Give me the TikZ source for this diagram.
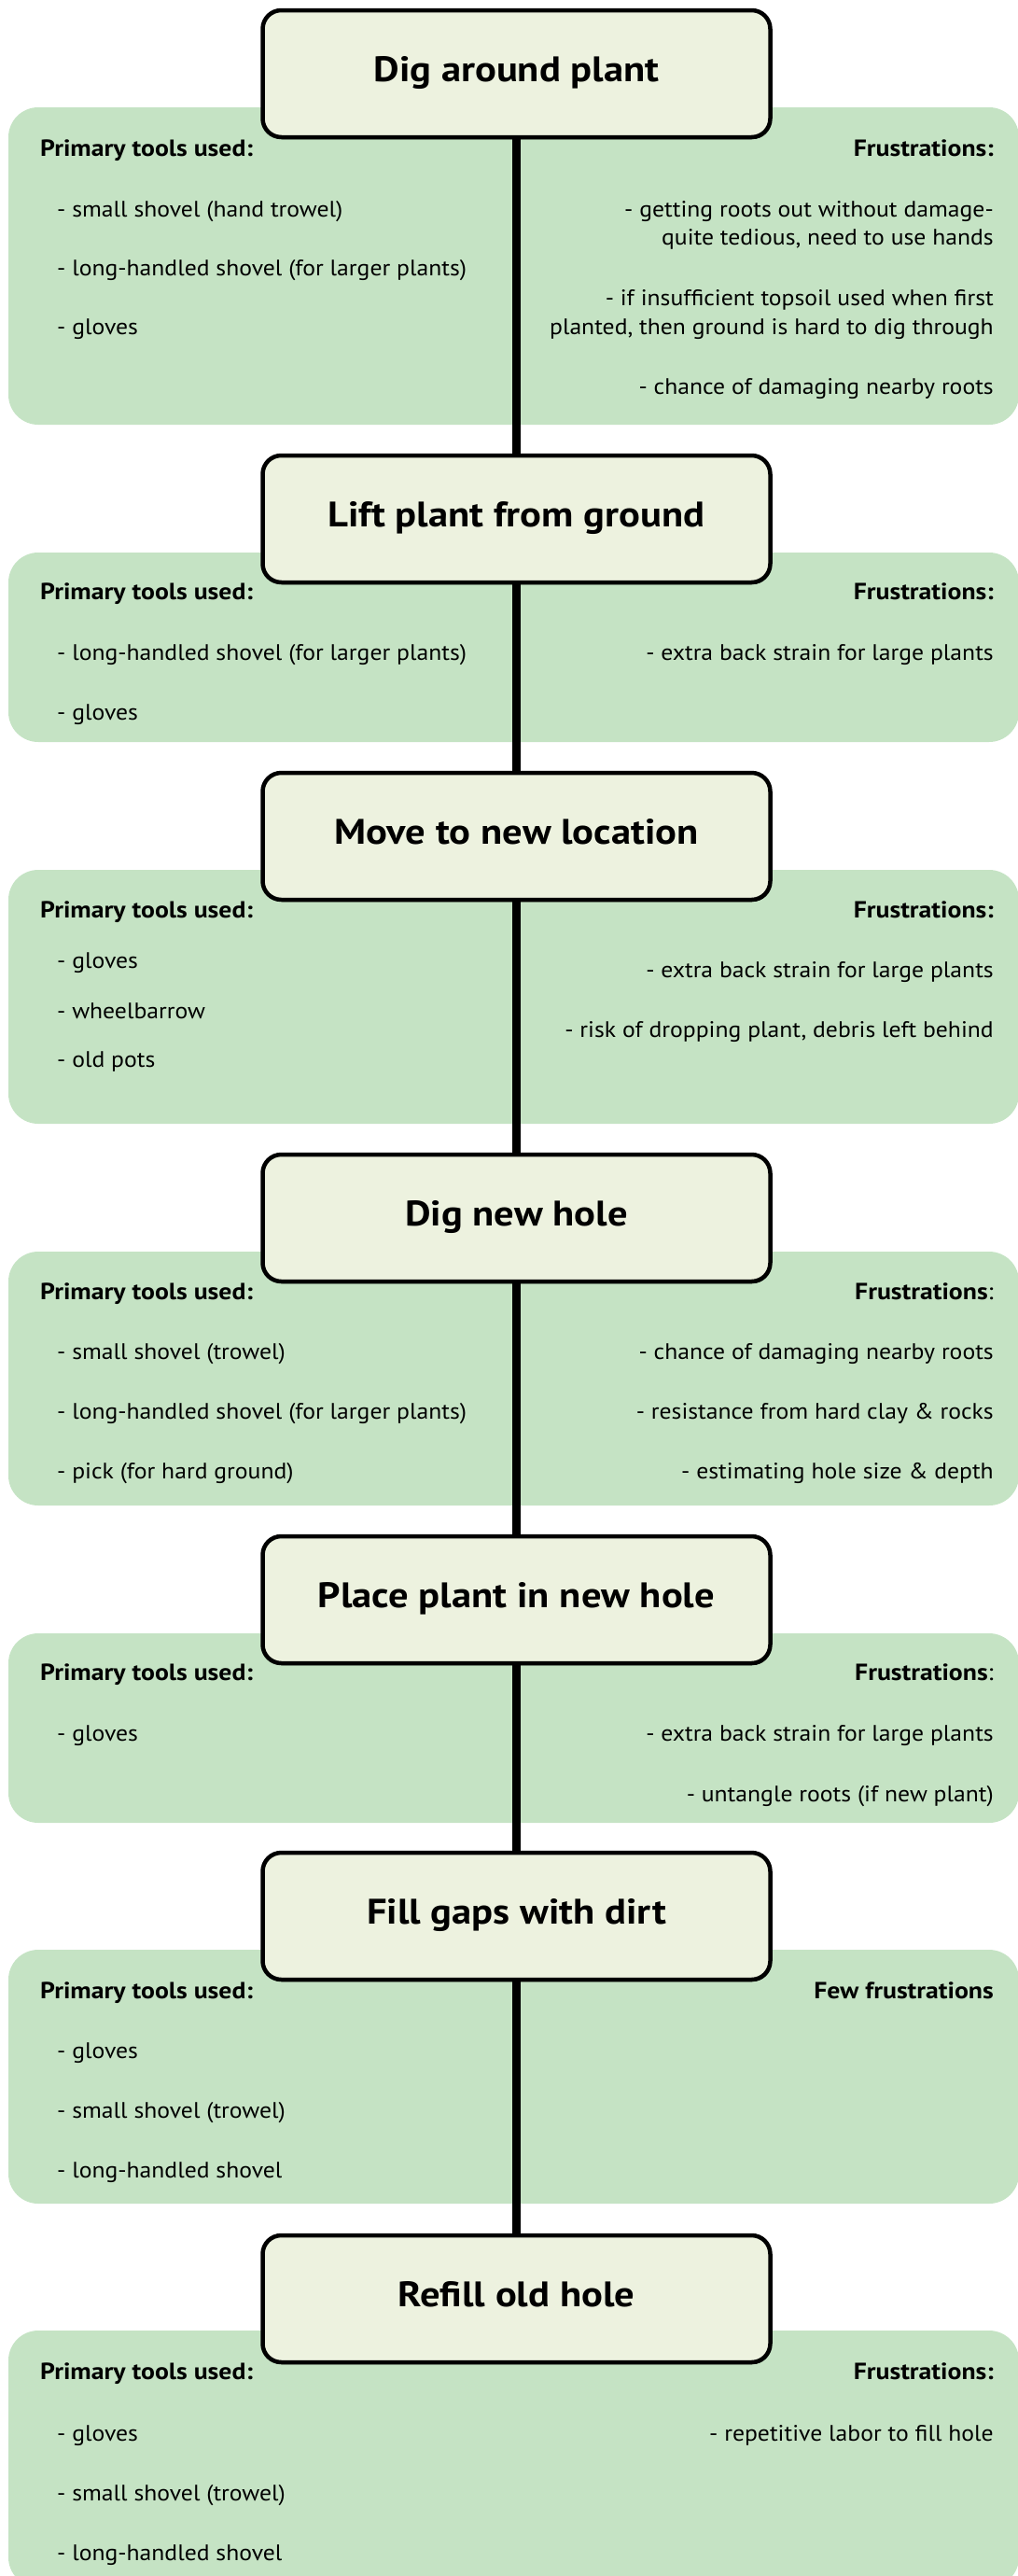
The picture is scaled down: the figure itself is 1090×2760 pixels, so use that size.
\documentclass[tikz,border=0pt]{standalone}
\usepackage{fontspec}
\setmainfont{PT Sans}
\newfontfamily\titlefont{PT Sans}[FakeStretch=1.12]
\newfontfamily\headfont{PT Sans}[FakeStretch=1.11]
\newfontfamily\itemfont{PT Sans}[FakeStretch=1.07]
\usepackage{tikz}
\usetikzlibrary{shadows}
\definecolor{panelgreen}{RGB}{197,227,196}
\definecolor{boxfill}{RGB}{237,242,223}

\begin{document}
\begin{tikzpicture}[x=1pt, y=-1pt,
    stepbox/.style={draw, line width=4.5pt, rounded corners=20pt, fill=boxfill,
        minimum width=544pt, minimum height=136pt, text height=26pt, text depth=10pt,
        font=\titlefont\fontsize{38}{42}\selectfont\bfseries,
        drop shadow={shadow xshift=1pt, shadow yshift=-2pt, opacity=1, fill=black}},
    panel/.style={fill=panelgreen, rounded corners=32pt},
    head/.style={inner sep=0pt, font=\headfont\fontsize{25}{30}\selectfont\bfseries},
    item/.style={inner sep=0pt, font=\itemfont\fontsize{24}{31}\selectfont},
    spine/.style={line width=9pt}]
    \useasboundingbox (0,0) rectangle (1090,2760);

    \fill [panel] (9,115) rectangle (1092,455);
    \fill [panel] (9,592) rectangle (1092,795);
    \fill [panel] (9,932) rectangle (1092,1204);
    \fill [panel] (9,1341) rectangle (1092,1613);
    \fill [panel] (9,1750) rectangle (1092,1953);
    \fill [panel] (9,2089) rectangle (1092,2361);
    \fill [panel] (9,2497) rectangle (1092,2772);

    \node [stepbox] (dig) at (553.5,79) {Dig around plant};
    \node [stepbox] (lift) at (553.5,556) {Lift plant from ground};
    \node [stepbox] (move) at (553.5,896) {Move to new location};
    \node [stepbox] (hole) at (553.5,1305) {Dig new hole};
    \node [stepbox] (place) at (553.5,1714) {Place plant in new hole};
    \node [stepbox] (fill) at (553.5,2053) {Fill gaps with dirt};
    \node [stepbox] (refill) at (553.5,2463) {Refill old hole};

    \draw [spine] (dig) -- (lift);
    \draw [spine] (lift) -- (move);
    \draw [spine] (move) -- (hole);
    \draw [spine] (hole) -- (place);
    \draw [spine] (place) -- (fill);
    \draw [spine] (fill) -- (refill);

    % dig around plant
    \node [head, anchor=base west] (h1l) at (43,167) {Primary tools used:};
    \node [head, anchor=base east] (h1r) at (1065,167) {Frustrations:};
    \node [item, anchor=base west] (l11) at (61,232) {- small shovel (hand trowel)};
    \node [item, anchor=base west] (l12) at (61,295) {- long-handled shovel (for larger plants)};
    \node [item, anchor=base west] (l13) at (61,358) {- gloves};
    \node [item, anchor=base east] (r11) at (1065,232) {- getting roots out without damage-};
    \node [item, anchor=base east] (r12) at (1065,262) {quite tedious, need to use hands};
    \node [item, anchor=base east] (r13) at (1065,327) {- if insufficient topsoil used when first};
    \node [item, anchor=base east] (r14) at (1065,358) {planted, then ground is hard to dig through};
    \node [item, anchor=base east] (r15) at (1065,422) {- chance of damaging nearby roots};

    % lift plant
    \node [head, anchor=base west] (h2l) at (43,642) {Primary tools used:};
    \node [head, anchor=base east] (h2r) at (1065,642) {Frustrations:};
    \node [item, anchor=base west] (l21) at (61,707) {- long-handled shovel (for larger plants)};
    \node [item, anchor=base west] (l22) at (61,771) {- gloves};
    \node [item, anchor=base east] (r21) at (1065,707) {- extra back strain for large plants};

    % move
    \node [head, anchor=base west] (h3l) at (43,983) {Primary tools used:};
    \node [head, anchor=base east] (h3r) at (1065,983) {Frustrations:};
    \node [item, anchor=base west] (l31) at (61,1037) {- gloves};
    \node [item, anchor=base west] (l32) at (61,1091) {- wheelbarrow};
    \node [item, anchor=base west] (l33) at (61,1143) {- old pots};
    \node [item, anchor=base east] (r31) at (1065,1047) {- extra back strain for large plants};
    \node [item, anchor=base east] (r32) at (1065,1111) {- risk of dropping plant, debris left behind};

    % new hole
    \node [head, anchor=base west] (h4l) at (43,1392) {Primary tools used:};
    \node [head, anchor=base east] (h4r) at (1065,1392) {Frustrations{\mdseries:}};
    \node [item, anchor=base west] (l41) at (61,1456) {- small shovel (trowel)};
    \node [item, anchor=base west] (l42) at (61,1520) {- long-handled shovel (for larger plants)};
    \node [item, anchor=base west] (l43) at (61,1584) {- pick (for hard ground)};
    \node [item, anchor=base east] (r41) at (1065,1456) {- chance of damaging nearby roots};
    \node [item, anchor=base east] (r42) at (1065,1520) {- resistance from hard clay \& rocks};
    \node [item, anchor=base east] (r43) at (1065,1584) {- estimating hole size \& depth};

    % place plant
    \node [head, anchor=base west] (h5l) at (43,1800) {Primary tools used:};
    \node [head, anchor=base east] (h5r) at (1065,1800) {Frustrations{\mdseries:}};
    \node [item, anchor=base west] (l51) at (61,1865) {- gloves};
    \node [item, anchor=base east] (r51) at (1065,1865) {- extra back strain for large plants};
    \node [item, anchor=base east] (r52) at (1065,1930) {- untangle roots (if new plant)};

    % fill gaps
    \node [head, anchor=base west] (h6l) at (43,2141) {Primary tools used:};
    \node [head, anchor=base east] (h6r) at (1065,2141) {Few frustrations};
    \node [item, anchor=base west] (l61) at (61,2205) {- gloves};
    \node [item, anchor=base west] (l62) at (61,2269) {- small shovel (trowel)};
    \node [item, anchor=base west] (l63) at (61,2333) {- long-handled shovel};

    % refill
    \node [head, anchor=base west] (h7l) at (43,2549) {Primary tools used:};
    \node [head, anchor=base east] (h7r) at (1065,2549) {Frustrations:};
    \node [item, anchor=base west] (l71) at (61,2615) {- gloves};
    \node [item, anchor=base west] (l72) at (61,2679) {- small shovel (trowel)};
    \node [item, anchor=base west] (l73) at (61,2743) {- long-handled shovel};
    \node [item, anchor=base east] (r71) at (1065,2615) {- repetitive labor to fill hole};
\end{tikzpicture}
\end{document}
